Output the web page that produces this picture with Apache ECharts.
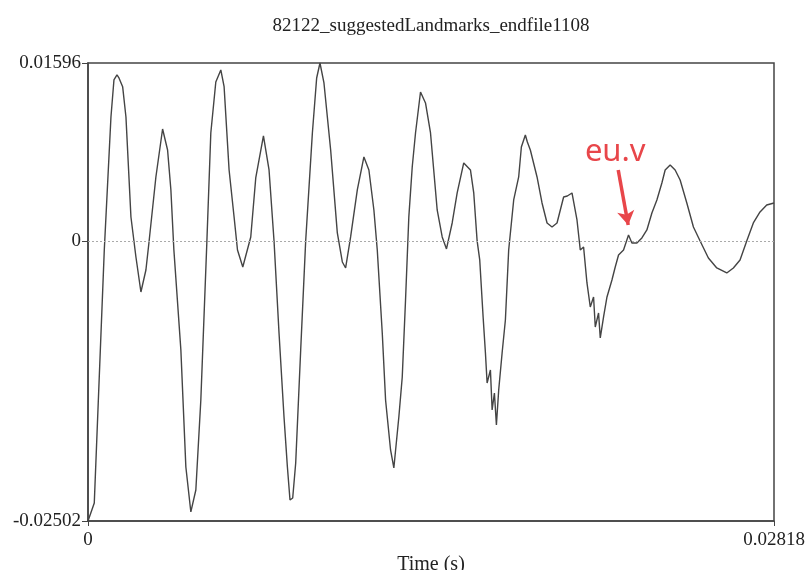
<!DOCTYPE html>
<html>
<head>
<meta charset="utf-8">
<script src="https://cdn.jsdelivr.net/npm/echarts@6/dist/echarts.min.js"></script>
<style>html,body{margin:0;padding:0;background:#fff;}#c{width:807px;height:570px;}</style>
</head>
<body>
<div id="c"></div>
<script>
const chartTitle = "82122_suggestedLandmarks_endfile1108";
const xAxisName = "Time (s)";
const xTicks = [0, 0.02818];
const xTickLabels = ["0", "0.02818"];
const yTicks = [-0.02502, 0, 0.01596];
const yTickLabels = ["-0.02502", "0", "0.01596"];
const annotationText = "eu.v";
const arrowFrom = [0.021781, 0.006389];
const arrowTo = [0.022191, 0.001467];
const annotationAt = [0.021658, 0.008000];

const timeS = [
0, 0.000258, 0.000669, 0.000943, 0.001066, 0.001190, 0.001272, 0.001423, 0.001559, 0.001764,
0.001969, 0.002174, 0.002379, 0.002502, 0.002789, 0.003064, 0.003269, 0.003405, 0.003528, 0.003815,
0.004020, 0.004225, 0.004430, 0.004635, 0.004881, 0.005045, 0.005250, 0.005456, 0.005591, 0.005796,
0.006001, 0.006141, 0.006358, 0.006686, 0.006891, 0.007207, 0.007437, 0.007642, 0.007847, 0.008052,
0.008191, 0.008298, 0.008409, 0.008532, 0.008737, 0.008942, 0.009217, 0.009393, 0.009529, 0.009693,
0.009968, 0.010242, 0.010448, 0.010583, 0.010788, 0.011063, 0.011334, 0.011539, 0.011744, 0.011883,
0.012088, 0.012224, 0.012429, 0.012564, 0.012769, 0.012909, 0.013044, 0.013179, 0.013319, 0.013454,
0.013659, 0.013864, 0.014070, 0.014344, 0.014550, 0.014726, 0.014960, 0.015165, 0.015435, 0.015710,
0.015846, 0.015985, 0.016092, 0.016231, 0.016326, 0.016395, 0.016531, 0.016601, 0.016695, 0.016777,
0.016871, 0.017011, 0.017146, 0.017281, 0.017487, 0.017692, 0.017802, 0.017966, 0.018048, 0.018171,
0.018446, 0.018651, 0.018857, 0.019062, 0.019267, 0.019402, 0.019538, 0.019689, 0.019882, 0.020087,
0.020222, 0.020358, 0.020497, 0.020633, 0.020768, 0.020838, 0.020973, 0.021043, 0.021179, 0.021319,
0.021523, 0.021658, 0.021794, 0.021999, 0.022204, 0.022343, 0.022548, 0.022753, 0.022958, 0.023164,
0.023369, 0.023574, 0.023709, 0.023914, 0.024119, 0.024324, 0.024599, 0.024870, 0.025145, 0.025485,
0.025830, 0.026240, 0.026511, 0.026785, 0.027060, 0.027331, 0.027606, 0.027881, 0.028180
];
const amplitude = [
-0.02502, -0.023407, -0.000770, 0.011131, 0.014441, 0.014889, 0.014620, 0.013842, 0.011131, 0.002183,
-0.001396, -0.004528, -0.002559, -0.000143, 0.005762, 0.010057, 0.008178, 0.004599, -0.000770, -0.009717,
-0.020186, -0.024212, -0.022244, -0.014191, -0.000143, 0.009699, 0.014262, 0.015336, 0.013842, 0.006389,
0.002183, -0.000770, -0.002291, 0.000394, 0.005673, 0.009431, 0.006389, 0.000036, -0.008196, -0.015712,
-0.020186, -0.023139, -0.022960, -0.019828, -0.009717, 0.000036, 0.009699, 0.014620, 0.01596, 0.014173,
0.008178, 0.000752, -0.001843, -0.002380, 0.000394, 0.004599, 0.007552, 0.006389, 0.002810, -0.000770,
-0.008196, -0.014191, -0.018665, -0.020275, -0.015712, -0.012133, -0.005243, 0.002183, 0.006657, 0.009699,
0.013368, 0.012383, 0.009699, 0.002810, 0.000394, -0.000680, 0.001646, 0.004331, 0.007015, 0.006389,
0.004331, 0.000036, -0.001664, -0.006764, -0.009986, -0.012670, -0.011507, -0.015086, -0.013565, -0.016428,
-0.013296, -0.009986, -0.007033, -0.000770, 0.003704, 0.005762, 0.008447, 0.009520, 0.008894, 0.008178,
0.005762, 0.003436, 0.001646, 0.001288, 0.001646, 0.002810, 0.003973, 0.004062, 0.004331, 0.001915,
-0.000770, -0.000501, -0.003722, -0.005870, -0.004975, -0.007659, -0.006407, -0.008643, -0.006764, -0.004975,
-0.003454, -0.002291, -0.001217, -0.000770, 0.000573, -0.000143, -0.000143, 0.000304, 0.001020, 0.002541,
0.003704, 0.005225, 0.006389, 0.006836, 0.006389, 0.005494, 0.003436, 0.001288, 0.000036, -0.001485,
-0.002380, -0.002827, -0.002380, -0.001664, 0.000036, 0.001646, 0.002631, 0.003257, 0.003436
];

const seriesData = timeS.map((t, i) => [t, amplitude[i]]);
const serif = "Liberation Serif";
const red = '#e8464a';

const chart = echarts.init(document.getElementById('c'), null, {renderer: 'canvas'});
chart.setOption({
  animation: false,
  backgroundColor: '#fff',
  title: {
    text: chartTitle, left: 426, top: 12, textAlign: 'center',
    textStyle: {fontFamily: serif, fontSize: 19, fontWeight: 'normal', color: '#222'}
  },
  grid: {left: 88, right: 33, top: 63, bottom: 49, containLabel: false, outerBoundsMode: 'none',
    show: true, borderColor: '#444', borderWidth: 1.5, backgroundColor: 'transparent'},
  xAxis: {
    type: 'value', min: xTicks[0], max: xTicks[1],
    name: xAxisName, nameLocation: 'middle', nameGap: 30,
    nameTextStyle: {fontFamily: serif, fontSize: 20, color: '#222', verticalAlign: 'top'},
    axisLine: {show: true, onZero: false, lineStyle: {color: '#444', width: 1.5}},
    axisTick: {show: true, length: 5, customValues: xTicks, lineStyle: {color: '#444'}},
    axisLabel: {show: true, customValues: xTicks, margin: 10, fontFamily: serif, fontSize: 19, color: '#222',
      formatter: v => xTickLabels[xTicks.indexOf(v)] ?? ''},
    splitLine: {show: false}
  },
  yAxis: {
    type: 'value', min: yTicks[0], max: yTicks[2],
    axisLine: {show: true, onZero: false, lineStyle: {color: '#444', width: 1.5}},
    axisTick: {show: true, length: 6, customValues: yTicks, lineStyle: {color: '#444'}},
    axisLabel: {show: true, customValues: yTicks, margin: 7, fontFamily: serif, fontSize: 19, color: '#222',
      formatter: v => yTickLabels[yTicks.indexOf(v)] ?? ''},
    splitLine: {show: false}
  },
  series: [{
    type: 'line', data: seriesData, showSymbol: false, symbol: 'none', z: 3,
    lineStyle: {color: '#444', width: 1.4}
  }, {
    type: 'line', data: [], z: 2,
    markLine: {
      silent: true, animation: false, symbol: ['none', 'none'],
      lineStyle: {type: [2, 2], color: '#aaa', width: 1},
      label: {show: false},
      data: [{yAxis: 0}]
    }
  }, {
    type: 'line', data: [], z: 4,
    markLine: {
      silent: true, animation: false, symbol: ['none', 'arrow'], symbolSize: [13, 14],
      lineStyle: {type: 'solid', color: red, width: 3.5},
      label: {show: false},
      data: [[{coord: arrowFrom}, {coord: arrowTo}]]
    },
    markPoint: {
      silent: true, animation: false,
      data: [{coord: annotationAt, symbolSize: 0, label: {show: true, formatter: annotationText,
        fontFamily: 'Noto Sans', fontSize: 31, color: red, position: 'inside'}}]
    }
  }]
});
</script>
</body>
</html>
